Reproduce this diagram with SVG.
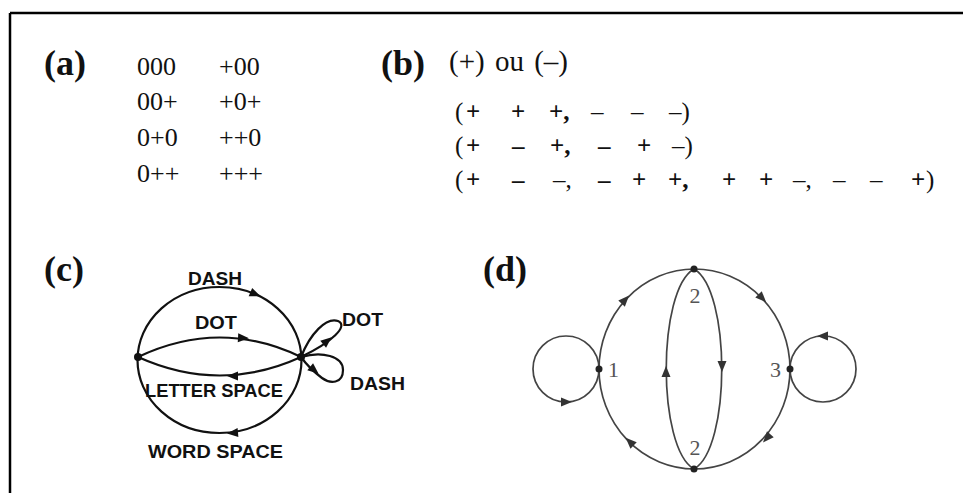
<svg xmlns="http://www.w3.org/2000/svg" width="963" height="493" viewBox="0 0 963 493">
<style>
.lbl{font-family:"Liberation Serif","Times New Roman",serif;font-weight:bold;font-size:36px;fill:#111}
.ser{font-family:"Liberation Serif","Times New Roman",serif;font-size:26px;fill:#111}
.sb{font-family:"Liberation Serif","Times New Roman",serif;font-size:25px;fill:#111}
.sg{font-weight:bold}
.cap{font-family:"Liberation Sans",Arial,sans-serif;font-weight:bold;font-size:18px;fill:#111}
.num{font-family:"Liberation Serif","Times New Roman",serif;font-size:22px;fill:#555}
.ce{fill:none;stroke:#111;stroke-width:2.2}
.de{fill:none;stroke:#444;stroke-width:1.7}
.ndc{fill:#111}
.ndd{fill:#222}
</style>
<defs>
<polygon id="ahc" points="6,0 -5,-4.5 -5,4.5" fill="#111"/>
<polygon id="ahd" points="6,0 -5,-4.5 -5,4.5" fill="#333"/>
</defs>

<g id="frame">
<path d="M10,13 H963 M10,13 V493" fill="none" stroke="#000" stroke-width="2.5"/>
</g>

<g id="panel-a">
<text class="lbl" x="44" y="75">(a)</text>
<text class="ser" x="137" y="75">000</text>
<text class="ser" x="219" y="75">+00</text>
<text class="ser" x="137" y="110">00+</text>
<text class="ser" x="219" y="110">+0+</text>
<text class="ser" x="137" y="146">0+0</text>
<text class="ser" x="219" y="146">++0</text>
<text class="ser" x="137" y="182">0++</text>
<text class="ser" x="219" y="182">+++</text>
</g>

<g id="panel-b">
<text class="lbl" x="381" y="75">(b)</text>
<text class="sb" x="449" y="71" style="font-size:29px;word-spacing:3px">(+) ou (–)</text>
<text class="sb" y="120"><tspan x="455">(</tspan><tspan class="sg" x="466">+</tspan><tspan class="sg" x="511">+</tspan><tspan class="sg" x="549">+,</tspan><tspan x="591">–</tspan><tspan x="631">–</tspan><tspan x="669">–)</tspan></text>
<text class="sb" y="154"><tspan x="455">(</tspan><tspan class="sg" x="466">+</tspan><tspan class="sg" x="512">–</tspan><tspan class="sg" x="550">+,</tspan><tspan class="sg" x="598">–</tspan><tspan class="sg" x="637">+</tspan><tspan x="672">–)</tspan></text>
<text class="sb" y="188"><tspan x="455">(</tspan><tspan class="sg" x="466">+</tspan><tspan class="sg" x="512">–</tspan><tspan x="553">–,</tspan><tspan class="sg" x="598">–</tspan><tspan class="sg" x="632">+</tspan><tspan class="sg" x="668">+,</tspan><tspan class="sg" x="722">+</tspan><tspan class="sg" x="759">+</tspan><tspan x="793">–,</tspan><tspan x="833">–</tspan><tspan x="870">–</tspan><tspan class="sg" x="911">+</tspan><tspan x="926">)</tspan></text>
</g>

<g id="panel-c">
<text class="lbl" x="44" y="281">(c)</text>
<g id="c-edges">
<ellipse class="ce" cx="219.5" cy="360" rx="82" ry="73"/>
<path class="ce" d="M138,357 Q220,318 301,357"/>
<path class="ce" d="M301,357 Q220,394 138,357"/>
<path class="ce" d="M301,357 C310,334 326,317 338,321 C349,326 332,342 301,357"/>
<path class="ce" d="M301,357 C322,351 343,356 343,370 C343,384 330,384 322,378 C314,372 306,364 301,357"/>
<use href="#ahc" transform="translate(255,294) rotate(23)"/>
<use href="#ahc" transform="translate(243,338) rotate(3)"/>
<use href="#ahc" transform="translate(233,376) rotate(180)"/>
<use href="#ahc" transform="translate(233,433) rotate(175)"/>
<use href="#ahc" transform="translate(327,341) rotate(-40)"/>
<use href="#ahc" transform="translate(314,370) rotate(40)"/>
</g>
<g id="c-node-left"><circle class="ndc" cx="138" cy="357" r="4"/></g>
<g id="c-node-right"><circle class="ndc" cx="301" cy="357" r="4"/></g>
<text class="cap" x="188" y="285" textLength="54" lengthAdjust="spacingAndGlyphs">DASH</text>
<text class="cap" x="195" y="329" textLength="42" lengthAdjust="spacingAndGlyphs">DOT</text>
<text class="cap" x="342" y="326" textLength="41" lengthAdjust="spacingAndGlyphs">DOT</text>
<text class="cap" x="350" y="390" textLength="55" lengthAdjust="spacingAndGlyphs">DASH</text>
<text class="cap" x="145" y="397" textLength="138" lengthAdjust="spacingAndGlyphs">LETTER SPACE</text>
<text class="cap" x="148" y="458" textLength="135" lengthAdjust="spacingAndGlyphs">WORD SPACE</text>
</g>

<g id="panel-d">
<text class="lbl" x="483" y="281">(d)</text>
<g id="d-edges">
<ellipse class="de" cx="694.5" cy="369" rx="95.5" ry="100"/>
<path class="de" d="M694,269 C657,290 657,448 694,469"/>
<path class="de" d="M694,269 C731,290 731,448 694,469"/>
<circle class="de" cx="566" cy="369" r="33"/>
<circle class="de" cx="823" cy="369" r="33"/>
<use href="#ahd" transform="translate(625,300) rotate(-47)"/>
<use href="#ahd" transform="translate(762,298) rotate(46)"/>
<use href="#ahd" transform="translate(767,438) rotate(132)"/>
<use href="#ahd" transform="translate(630,442) rotate(-136)"/>
<use href="#ahd" transform="translate(666,372) rotate(-90)"/>
<use href="#ahd" transform="translate(722,366) rotate(90)"/>
<use href="#ahd" transform="translate(566,402) rotate(0)"/>
<use href="#ahd" transform="translate(823,336) rotate(180)"/>
</g>
<g id="d-node-1"><circle class="ndd" cx="599" cy="369" r="3.5"/><text class="num" x="608" y="377">1</text></g>
<g id="d-node-3"><circle class="ndd" cx="790" cy="369" r="3.5"/><text class="num" x="770" y="377">3</text></g>
<g id="d-node-2top"><circle class="ndd" cx="694" cy="269" r="3.5"/><text class="num" x="695" y="303" text-anchor="middle">2</text></g>
<g id="d-node-2bot"><circle class="ndd" cx="694" cy="469" r="3.5"/><text class="num" x="695" y="455" text-anchor="middle">2</text></g>
</g>
</svg>
